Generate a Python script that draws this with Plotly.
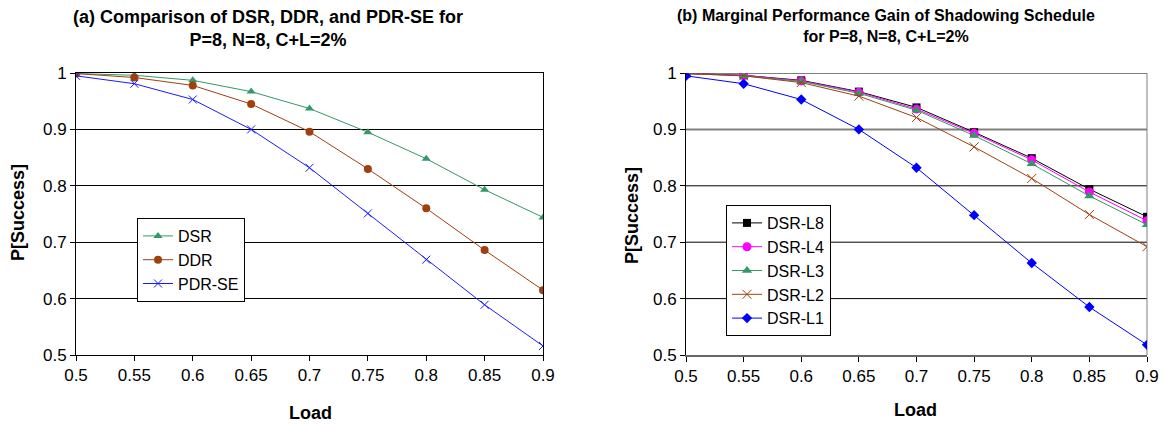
import plotly.graph_objects as go

load = [0.5, 0.55, 0.6, 0.65, 0.7, 0.75, 0.8, 0.85, 0.9]

# Panel (a)
dsr = [0.999, 0.996, 0.987, 0.967, 0.937, 0.895, 0.848, 0.793, 0.744]
ddr = [0.999, 0.992, 0.978, 0.945, 0.896, 0.830, 0.760, 0.686, 0.615]
pdr_se = [0.995, 0.981, 0.953, 0.900, 0.832, 0.751, 0.669, 0.589, 0.516]

# Panel (b)
dsr_l8 = [0.999, 0.996, 0.987, 0.967, 0.939, 0.895, 0.849, 0.794, 0.745]
dsr_l4 = [0.999, 0.996, 0.986, 0.966, 0.936, 0.893, 0.846, 0.789, 0.738]
dsr_l3 = [0.999, 0.995, 0.985, 0.964, 0.934, 0.889, 0.839, 0.782, 0.731]
dsr_l2 = [0.999, 0.995, 0.983, 0.959, 0.921, 0.869, 0.813, 0.749, 0.692]
dsr_l1 = [0.995, 0.981, 0.953, 0.900, 0.832, 0.748, 0.663, 0.585, 0.518]

x_ticks = [0.5, 0.55, 0.6, 0.65, 0.7, 0.75, 0.8, 0.85, 0.9]
x_ticklabels = ["0.5", "0.55", "0.6", "0.65", "0.7", "0.75", "0.8", "0.85", "0.9"]
y_ticks = [0.5, 0.6, 0.7, 0.8, 0.9, 1.0]
y_ticklabels = ["0.5", "0.6", "0.7", "0.8", "0.9", "1"]

W, H = 1165, 428
FONT = "Liberation Sans, Arial, sans-serif"

GREEN = "#339966"
BROWN = "#A0400F"
BLUE = "#1A1AFF"

fig = go.Figure()

def add(x, y, name, color, symbol, size, xa, ya, legend, mline=0):
    fig.add_trace(go.Scatter(
        x=x, y=y, name=name, mode="lines+markers",
        line=dict(color=color, width=1),
        marker=dict(color=color, symbol=symbol, size=size,
                    line=dict(color=color, width=mline)),
        xaxis=xa, yaxis=ya, legend=legend))

add(load, dsr, "DSR", GREEN, "triangle-up", 8, "x", "y", "legend")
add(load, ddr, "DDR", BROWN, "circle", 8, "x", "y", "legend")
add(load, pdr_se, "PDR-SE", BLUE, "x-thin-open", 8, "x", "y", "legend", 1)

add(load, dsr_l8, "DSR-L8", "#000000", "square", 8, "x2", "y2", "legend2")
add(load, dsr_l4, "DSR-L4", "#FF00FF", "circle", 9, "x2", "y2", "legend2")
add(load, dsr_l3, "DSR-L3", GREEN, "triangle-up", 9, "x2", "y2", "legend2")
add(load, dsr_l2, "DSR-L2", BROWN, "x-thin-open", 9, "x2", "y2", "legend2", 1)
add(load, dsr_l1, "DSR-L1", "#0000FF", "diamond", 8, "x2", "y2", "legend2")

def px_x(p):
    return p / W

def px_y(p):
    return 1 - p / H

xdom1 = [px_x(76), px_x(543)]
xdom2 = [px_x(686), px_x(1147)]
ydom = [px_y(355), px_y(73)]

xax = dict(range=[0.5, 0.9], tickvals=x_ticks, ticktext=x_ticklabels,
           showgrid=False, zeroline=False, showline=True, linecolor="black",
           linewidth=1, ticks="outside", ticklen=5, tickcolor="black",
           automargin=False,
           tickfont=dict(family=FONT, size=17, color="black"))
yax = dict(range=[0.5, 1.0], tickvals=y_ticks, ticktext=y_ticklabels,
           showgrid=True, gridcolor="black", gridwidth=1, zeroline=False,
           showline=True, linecolor="black", linewidth=1,
           ticks="outside", ticklen=5, tickcolor="black",
           automargin=False,
           tickfont=dict(family=FONT, size=17, color="black"))

LEGFONT = dict(family=FONT, size=16, color="black")

fig.update_layout(
    width=W, height=H,
    margin=dict(l=0, r=0, t=0, b=0, autoexpand=False),
    paper_bgcolor="white", plot_bgcolor="white",
    font=dict(family=FONT, color="black"),
    xaxis=dict(xax, domain=xdom1, anchor="y", mirror=True),
    yaxis=dict(yax, domain=ydom, anchor="x", mirror=True),
    xaxis2=dict(xax, domain=xdom2, anchor="y2", linecolor="#666666", linewidth=2),
    yaxis2=dict(yax, domain=ydom, anchor="x2", showgrid=False),
    legend=dict(x=px_x(137), y=px_y(218), xanchor="left", yanchor="top",
                bordercolor="black", borderwidth=1, bgcolor="white",
                font=LEGFONT, itemwidth=30, tracegroupgap=0),
    legend2=dict(x=px_x(726), y=px_y(205), xanchor="left", yanchor="top",
                 bordercolor="black", borderwidth=1, bgcolor="white",
                 font=LEGFONT, itemwidth=30, tracegroupgap=0),
    showlegend=True,
)

# right panel gridlines drawn below the traces; the 0.9 line is gray and thicker
for v in y_ticks[1:]:
    gray = abs(v - 0.9) < 1e-9
    fig.add_shape(type="line", xref="x2 domain", yref="y2", x0=0, x1=1, y0=v, y1=v,
                  line=dict(color="#808080" if gray else "black", width=2 if gray else 1),
                  layer="below")
fig.add_shape(type="line", xref="x2 domain", yref="y2 domain", x0=1, x1=1, y0=0, y1=1,
              line=dict(color="#808080", width=1), layer="below")

ann = [
    dict(text="<b>(a) Comparison of DSR, DDR, and PDR-SE for<br>P=8, N=8, C+L=2%</b>",
         x=px_x(268), y=px_y(5), size=18),
    dict(text="<b>(b) Marginal Performance Gain of Shadowing Schedule<br>for P=8, N=8, C+L=2%</b>",
         x=px_x(886), y=px_y(5), size=16),
]
for a in ann:
    fig.add_annotation(text=a["text"], x=a["x"], y=a["y"], xref="paper", yref="paper",
                       xanchor="center", yanchor="top", showarrow=False,
                       font=dict(family=FONT, size=a["size"], color="black"))

fig.add_annotation(text="<b>Load</b>", x=px_x(310), y=px_y(413), xref="paper", yref="paper",
                   xanchor="center", yanchor="middle", showarrow=False,
                   font=dict(family=FONT, size=18, color="black"))
fig.add_annotation(text="<b>Load</b>", x=px_x(916), y=px_y(410), xref="paper", yref="paper",
                   xanchor="center", yanchor="middle", showarrow=False,
                   font=dict(family=FONT, size=18, color="black"))
fig.add_annotation(text="<b>P[Success]</b>", x=px_x(18), y=px_y(213), xref="paper", yref="paper",
                   xanchor="center", yanchor="middle", showarrow=False, textangle=-90,
                   font=dict(family=FONT, size=18, color="black"))
fig.add_annotation(text="<b>P[Success]</b>", x=px_x(632), y=px_y(215), xref="paper", yref="paper",
                   xanchor="center", yanchor="middle", showarrow=False, textangle=-90,
                   font=dict(family=FONT, size=18, color="black"))

fig.write_html("out.html")
